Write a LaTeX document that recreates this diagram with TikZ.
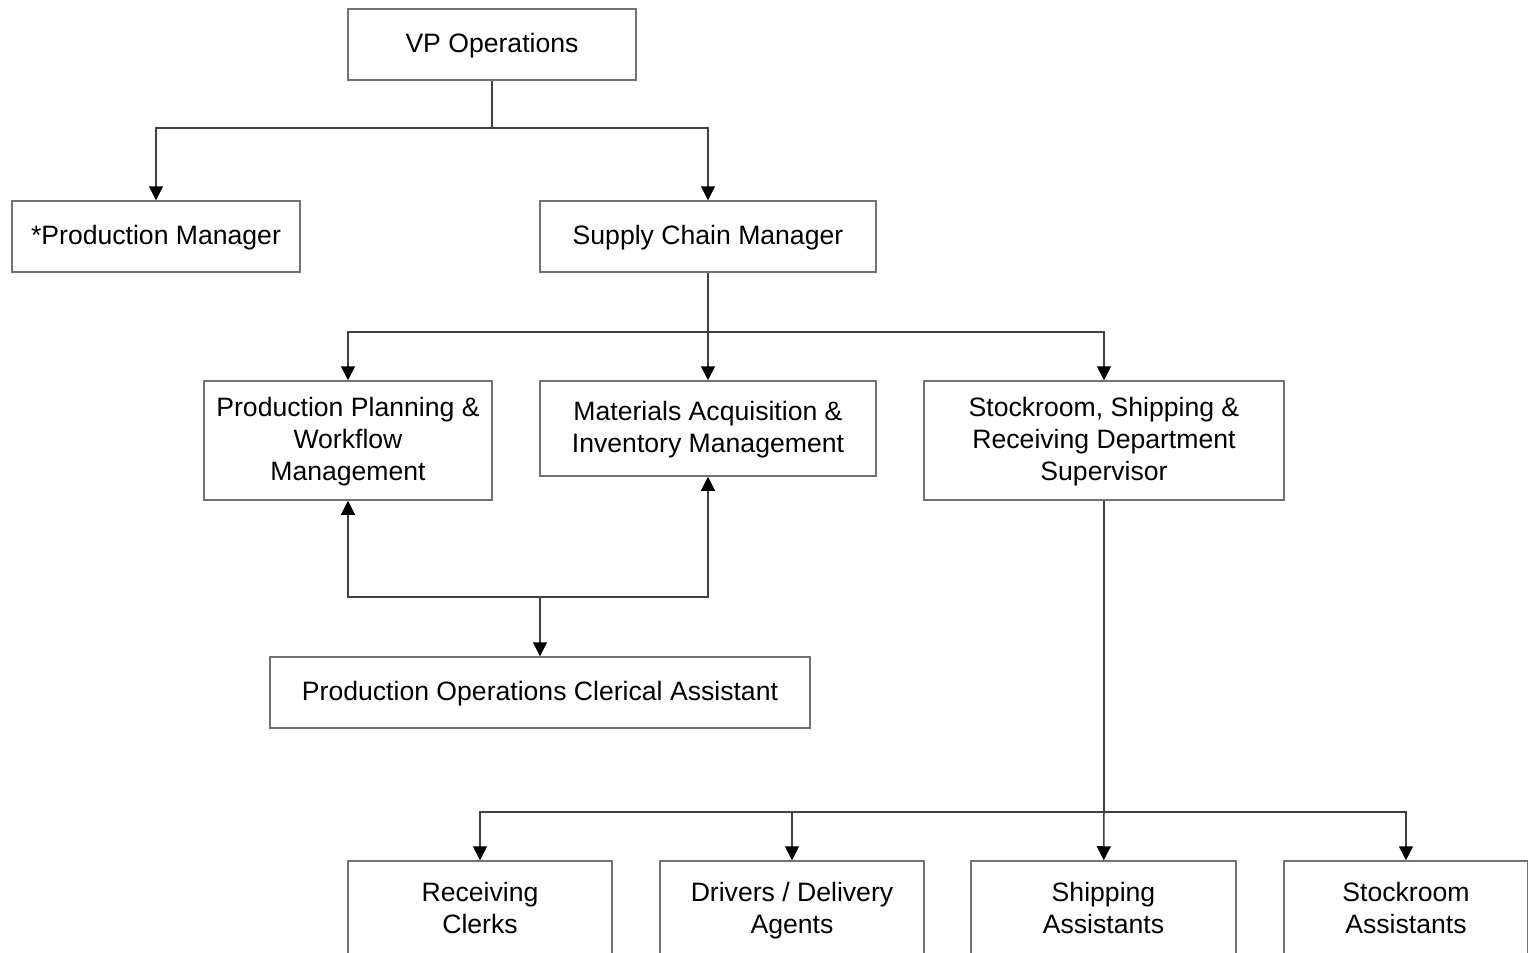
\documentclass[tikz,border=0pt]{standalone}
\usepackage{fontspec}
\setmainfont{Liberation Sans}
\usetikzlibrary{arrows.meta,positioning}

\begin{document}
\begin{tikzpicture}[
  x=0.5pt, y=-0.5pt,
  font=\fontsize{13.3}{16}\selectfont,
  box/.style={draw=black!55, line width=0.75pt, fill=white, align=center, inner sep=0pt, text depth=0.15em},
  arrow/.style={draw=black!75, line width=0.75pt, -{Triangle[length=7pt,width=7pt,color=black]}},
  link/.style={draw=black!75, line width=0.75pt}
]
\useasboundingbox (0,0) rectangle (1528,953);

% top levels
\node[box, minimum width=144pt, minimum height=35.5pt] (vp) at (492,44.5) {VP Operations};
\node[box, minimum width=144pt, minimum height=35.5pt] (pm) at (156,236.5) {*Production Manager};
\node[box, minimum width=168pt, minimum height=35.5pt] (scm) at (708,236.5) {Supply Chain Manager};

% managers under supply chain
\node[box, minimum width=144pt, minimum height=59.5pt] (ppw) at (348,440.5) {Production Planning \&\\Workflow\\Management};
\node[box, minimum width=168pt, minimum height=47.5pt] (mai) at (708,428.5) {Materials Acquisition \&\\Inventory Management};
\node[box, minimum width=180pt, minimum height=59.5pt] (ssr) at (1104,440.5) {Stockroom, Shipping \&\\Receiving Department\\Supervisor};

\node[box, minimum width=270pt, minimum height=35.5pt] (cler) at (540,692.5) {Production Operations Clerical Assistant};

% staff
\node[box, minimum width=132pt, minimum height=48pt] (rc) at (480,909) {Receiving\\Clerks};
\node[box, minimum width=132pt, minimum height=48pt] (dda) at (792,909) {Drivers / Delivery\\Agents};
\node[box, minimum width=132.5pt, minimum height=48pt] (sha) at (1103.5,909) {Shipping\\Assistants};
\node[box, minimum width=122pt, minimum height=48pt] (sta) at (1406,909) {Stockroom\\Assistants};

% bus points
\coordinate (b1) at (492,128);
\coordinate (b2) at (708,332);
\coordinate (b3) at (540,597);
\coordinate (b4) at (1104,812);

\draw[link] (vp) -- (b1);
\draw[arrow] (b1) -| (pm);
\draw[arrow] (b1) -| (scm);

\draw[link] (scm) -- (b2);
\draw[arrow] (b2) -| (ppw);
\draw[arrow] (b2) -- (mai);
\draw[arrow] (b2) -| (ssr);

\draw[arrow] (b3) -| (ppw);
\draw[arrow] (b3) -| (mai);
\draw[arrow] (b3) -- (cler);

\draw[link] (ssr) -- (b4);
\draw[arrow] (b4) -| (rc);
\draw[arrow] (b4) -| (dda);
\draw[arrow] (b4) -- (sha);
\draw[arrow] (b4) -| (sta);
\end{tikzpicture}
\end{document}
